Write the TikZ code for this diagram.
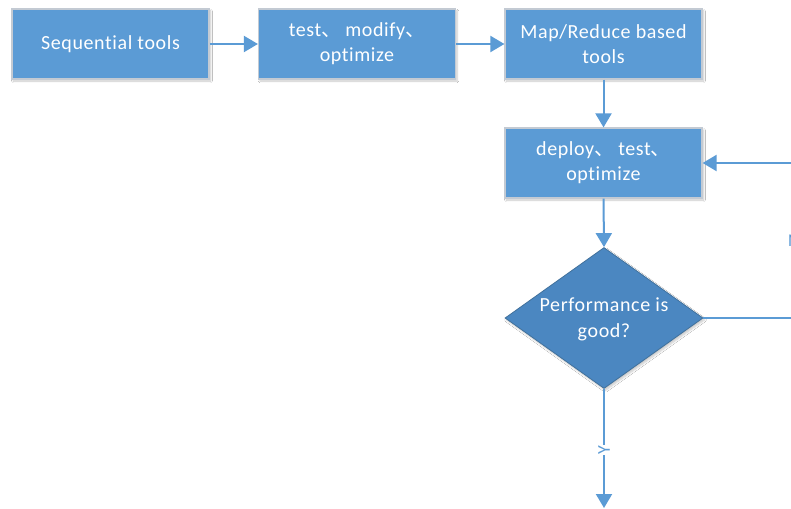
\documentclass[tikz,border=0pt]{standalone}
\usepackage{fontspec}
\setmainfont{Carlito}[LetterSpace=3,Ligatures={NoCommon}]
\newfontfamily\cjk{Noto Sans CJK SC}
\usetikzlibrary{arrows.meta,shapes.geometric,shadows.blur}
\definecolor{boxblue}{HTML}{5B9BD5}
\definecolor{boxedge}{HTML}{C3CAD3}
\definecolor{diafill}{HTML}{4B87C1}
\definecolor{diaedge}{HTML}{41719C}
\newcommand{\dun}{{\cjk 、}}
\tikzset{
  stepbox/.style={rectangle, fill=boxblue, draw=boxedge, line width=1.2pt,
    minimum width=197pt, minimum height=70pt, inner sep=0pt, text=white,
    align=center, font=\fontsize{20}{25}\selectfont,
    blur shadow={shadow xshift=1.5pt, shadow yshift=-2pt, shadow blur steps=6, shadow opacity=22}},
  decision/.style={diamond, fill=diafill, draw=diaedge, line width=0.8pt,
    minimum width=198pt, minimum height=141pt, inner sep=0pt,
    blur shadow={shadow xshift=1.5pt, shadow yshift=-2pt, shadow blur steps=6, shadow opacity=22}},
  dtext/.style={text=white, align=center, font=\fontsize{20}{26}\selectfont, inner sep=0pt},
  conn/.style={draw=boxblue, line width=2pt, -{Triangle[width=16pt,length=14pt]}},
  lbl/.style={text=boxblue, font=\fontsize{18}{20}\selectfont, inner sep=1pt},
}
\begin{document}
\begin{tikzpicture}[x=1pt,y=-1pt]
\clip (0,0) rectangle (791,508);
\fill[white] (0,0) rectangle (791,508);
\node[stepbox] (b1) at (110.5,44) {Sequential tools};
\node[stepbox] (b2) at (357,44) {test\dun\hspace{4pt}modify\dun\\optimize};
\node[stepbox] (b3) at (603.5,44) {Map/Reduce based\\tools};
\node[stepbox] (b4) at (603.5,163) {deploy\dun\hspace{4pt}test\dun\\optimize};
\node[decision] (dia) at (604,318) {};
\node[dtext] (diat) at (604,319) {Performance is\\good?};
\coordinate (r1) at (810,318);
\coordinate (bot) at (604,508);
\draw[conn] (b1.east) -- (b2.west);
\draw[conn] (b2.east) -- (b3.west);
\draw[conn] (b3.south) -- (b4.north);
\draw[conn] (b4.south) -- (dia.north);
\draw[conn] (dia.east) -- (r1) |- (b4.east);
\draw[conn] (dia.south) -- (bot);
\node[lbl, fill=white, rotate=90] (ylab) at (604,450) {Y};
\node[lbl, anchor=west] (nlab) at (787,241) {N};
\end{tikzpicture}
\end{document}
